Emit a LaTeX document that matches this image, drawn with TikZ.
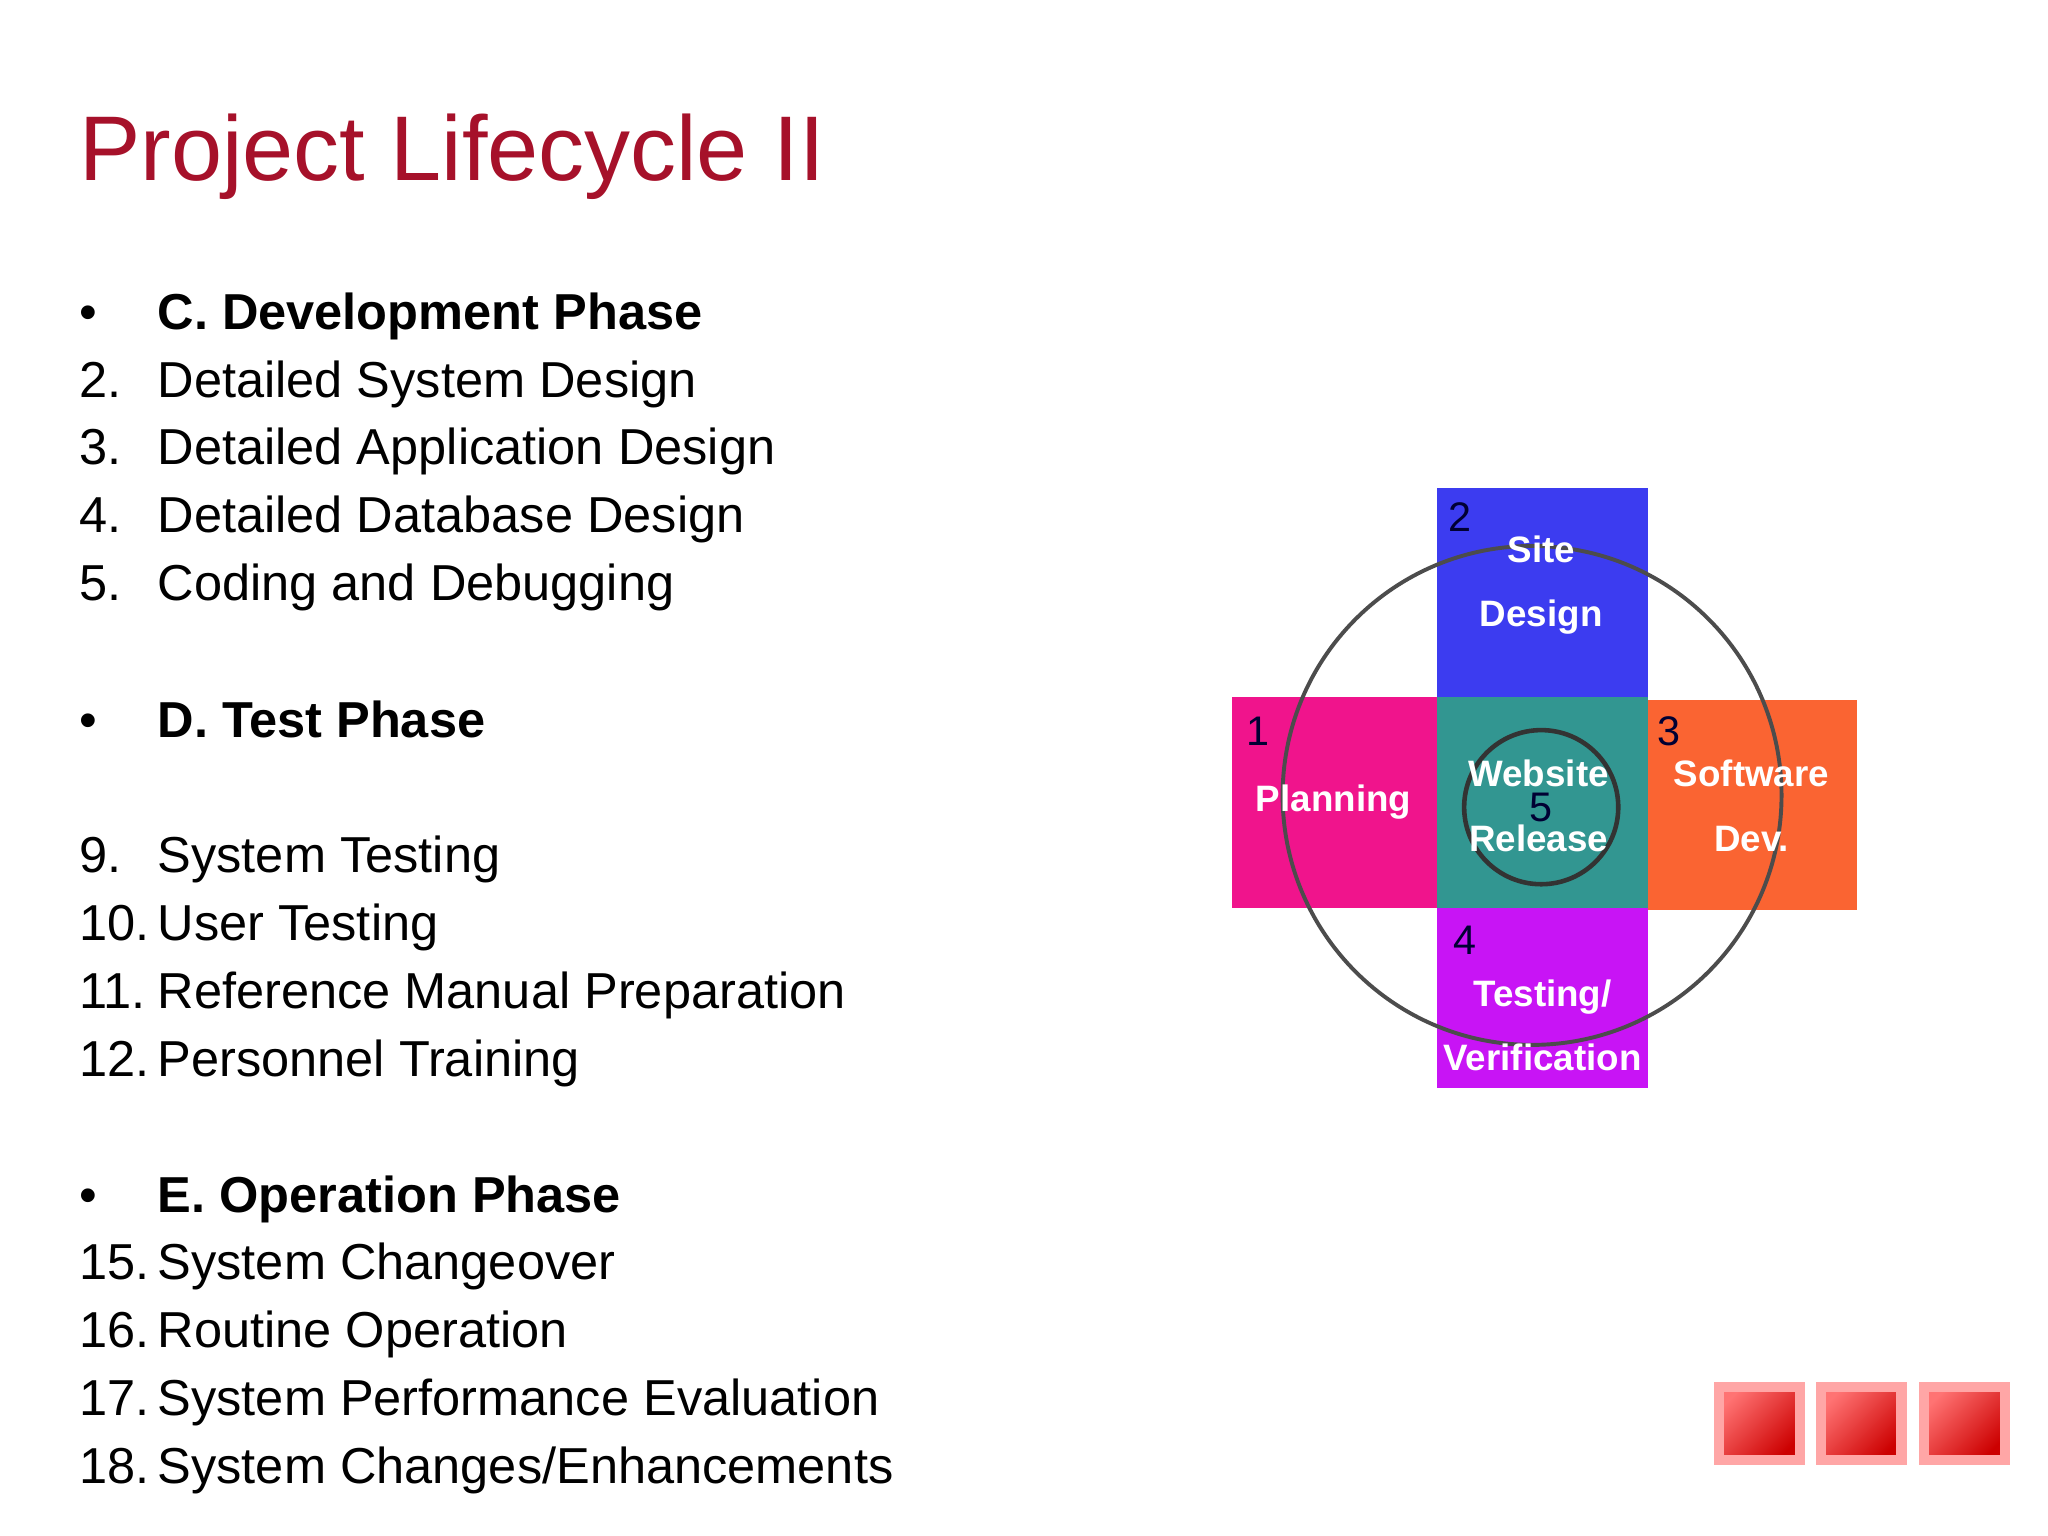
\documentclass[tikz,border=0pt]{standalone}
\usepackage{fontspec}
\setmainfont{Liberation Sans}
\begin{document}
\begin{tikzpicture}[x=0.01cm,y=-0.01cm,
  body/.style={anchor=base west,font=\fontsize{11pt}{13pt}\selectfont,inner sep=0},
  lab/.style={text=white,font=\fontsize{8pt}{10pt}\selectfont\bfseries,align=center},
  num/.style={font=\fontsize{9pt}{10pt}\selectfont,text=black!80!blue},
  sq/.style={draw=red!35!white,line width=0.8mm,top color=red!55!white,bottom color=red!80!black,shading angle=45}]
\useasboundingbox (0,0) rectangle (1568,1176);
\node[anchor=base west,inner sep=0,text={rgb,255:red,166;green,17;blue,42},font=\fontsize{20pt}{24pt}\selectfont] (title) at (60,138) {Project Lifecycle II};
\foreach \y/\n/\t/\b in {252/•/C. Development Phase/1,304/2./Detailed System Design/0,356/3./Detailed Application Design/0,408/4./Detailed Database Design/0,460/5./Coding and Debugging/0,565/•/D. Test Phase/1,668/9./System Testing/0,720/10./User Testing/0,772/11./Reference Manual Preparation/0,824/12./Personnel Training/0,928/•/E. Operation Phase/1,980/15./System Changeover/0,1032/16./Routine Operation/0,1084/17./System Performance Evaluation/0,1136/18./{System Changes/Enhancements}/0}{
  \node[body] at (60,\y) {\n};
  \ifnum\b=1 \node[body,font=\fontsize{11pt}{13pt}\selectfont\bfseries] at (120,\y) {\t};
  \else \node[body] at (120,\y) {\t};\fi
}
\fill[fill={rgb,255:red,60;green,60;blue,240}] (1100,374) rectangle (1262,534);
\fill[fill={rgb,255:red,240;green,20;blue,140}] (943,534) rectangle (1100,695);
\fill[fill={rgb,255:red,50;green,150;blue,145}] (1100,534) rectangle (1262,695);
\fill[fill={rgb,255:red,250;green,100;blue,50}] (1262,536) rectangle (1422,697);
\fill[fill={rgb,255:red,200;green,20;blue,245}] (1100,695) rectangle (1262,833);
\draw[black!70,line width=0.3mm] (1173,609) circle (191);
\draw[black!80,line width=0.35mm] (1180,618) circle (59);
\node[lab] (site) at (1180,448) {Site\\[4pt]Design};
\node[lab] (plan) at (1021,614) {Planning};
\node[lab] (web) at (1178,617) {Website\\[4pt]Release};
\node[lab] (soft) at (1341,617) {Software\\[4pt]Dev.};
\node[lab] (test) at (1181,785) {Testing/\\[4pt]Verification};
\node[num] (n2) at (1118,396) {2};
\node[num] (n1) at (963,560) {1};
\node[num] (n3) at (1278,560) {3};
\node[num] (n5) at (1180,618) {5};
\node[num] (n4) at (1122,720) {4};
\foreach \x in {1316,1394,1473}{\path[sq] (\x,1062) rectangle ++(62,56);}
\end{tikzpicture}
\end{document}
